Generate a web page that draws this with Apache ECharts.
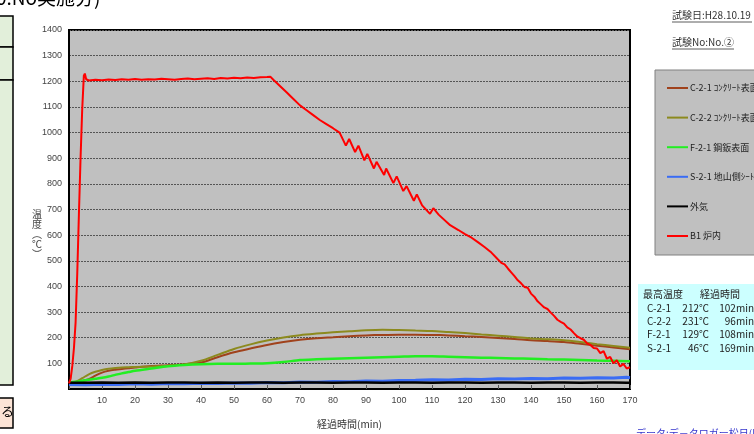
<!DOCTYPE html>
<html><head><meta charset="utf-8">
<script src="https://cdn.jsdelivr.net/npm/echarts/dist/echarts.min.js"></script>
<style>html,body{margin:0;padding:0;background:#fff}#c{width:754px;height:434px}</style>
</head><body><div id="c"></div>
<script>
var xTicks = [0,10,20,30,40,50,60,70,80,90,100,110,120,130,140,150,160,170];
var yTicks = [0,100,200,300,400,500,600,700,800,900,1000,1100,1200,1300,1400];
var seriesNames = ['C-2-1 ｺﾝｸﾘｰﾄ表面','C-2-2 ｺﾝｸﾘｰﾄ表面','F-2-1 鋼鈑表面','S-2-1 地山側ｼｰﾄ','外気','B1 炉内'];

var smoothT = [0,2,4,6,8,10,12,14,16,18,20,25,30,35,40,45,50,55,60,65,70,75,80,85,90,95,100,105,110,115,120,125,130,135,140,145,150,155,160,165,170];
var c21V = [25,27,31,38,52,64,71,75,78,81,84,90,93,97,103,124,143,158,172,183,192,198,202,206,209,211,212,212,211,209,206,203,199,195,190,187,183,176,169,162,155];
var c22V = [25,28,42,57,67,74,79,82,84,85,86,88,91,96,110,133,156,174,189,201,210,216,221,225,229,231,230,228,226,222,218,213,208,203,197,194,190,183,175,168,161];
var f21V = [25,28,32,36,40,44,49,55,61,66,71,80,89,94,97,98,98,99,100,105,113,116,118,120,122,124,126,128,128,126,124,122,121,119,118,116,115,113,111,110,108];

var blueT = [0,5,10,15,20,25,30,35,40,45,50,55,60,65,70,75,80,85,90,95,100,105,110,115,120,125,130,135,140,145,150,155,160,165,169,170];
var s21V = [18,17,19,18,20,19,21,20,22,21,23,22,25,24,27,26,29,28,31,30,33,34,36,35,38,37,40,39,41,40,43,42,44,43,46,44];
var airV = [24,24,25,24,25,24,25,25,24,25,24,25,25,24,25,25,24,25,25,24,25,25,24,25,25,24,25,25,24,25,25,24,25,25,24,24];

var redT = [0,0.5,1,1.5,2,2.5,3,3.5,4,4.5,4.8,5.2,6,8,10,12,14,16,18,20,22,24,26,28,30,32,34,36,38,40,42,44,46,48,50,52,54,56,58,60,61,62,64,66,68,70,72,74,76,78,80,82,83.9,84.9,86.7,87.7,89.5,90.4,92.4,93.2,95.5,96.1,98.3,99.3,101.3,102.3,104.5,105.4,107,109.4,110.4,112,115.5,118,120,122,124,126,128,130,131,132,133,134,135,136,137,138,139,140,141,142,143,144,145,146,147,148,149,150,151,152,153,154,155,156,157,158,159,160,161,162,163,164,165,166,167,168,169,170];
var redV = [22,40,90,160,260,450,680,900,1090,1222,1230,1208,1203,1206,1204,1207,1205,1208,1206,1209,1206,1208,1207,1210,1208,1206,1209,1211,1208,1210,1212,1209,1213,1211,1214,1212,1215,1213,1216,1217,1218,1205,1181,1156,1131,1106,1087,1068,1049,1033,1017,1000,949,975,924,949,892,917,860,886,835,860,803,829,772,791,734,759,716,683,705,680,639,620,604,590,572,553,532,505,492,486,470,455,440,424,412,398,395,372,360,342,330,318,312,298,285,270,262,255,240,232,218,205,198,192,178,172,160,158,140,148,118,125,100,112,88,98,80,85];

function pairs(t, v){ return t.map(function(x,i){ return [x, v[i]]; }); }

var colors = ['#a0421c','#8c8a1e','#22ee22','#3a6cf4','#000000','#ff0000'];
var values = [pairs(smoothT,c21V), pairs(smoothT,c22V), pairs(smoothT,f21V), pairs(blueT,s21V), pairs(blueT,airV), pairs(redT,redV)];
var widths = [2,2,2.5,3,2.5,2];

var jp = '"Noto Sans CJK JP", "Liberation Sans", sans-serif';
var chart = echarts.init(document.getElementById('c'));
var series = seriesNames.map(function(n,i){
  return {name:n, type:'line', data:values[i], showSymbol:false, smooth: (i<3)?0.3:false,
    lineStyle:{color:colors[i], width:widths[i]}, itemStyle:{color:colors[i]}, z: (i===5)?5:(i===4?3:2)};
});

var maxRows = [['C-2-1','212℃','102min'],['C-2-2','231℃','96min'],['F-2-1','129℃','108min'],['S-2-1','46℃','169min']];
var gfx = [
  {type:'rect', shape:{x:-2,y:16,width:15,height:31}, style:{fill:'#e2efda',stroke:'#000',lineWidth:1.5}},
  {type:'rect', shape:{x:-2,y:47,width:15,height:33}, style:{fill:'#e2efda',stroke:'#000',lineWidth:1.5}},
  {type:'rect', shape:{x:-2,y:80,width:15,height:305}, style:{fill:'#e2efda',stroke:'#000',lineWidth:1.5}},
  {type:'rect', shape:{x:-2,y:398,width:15,height:30}, style:{fill:'#fce4d6',stroke:'#000',lineWidth:1.5}},
  {type:'text', x:1, y:405, style:{text:'る', font:'13px '+jp, fill:'#000'}},
  {type:'text', x:-4, y:-12, style:{text:'0.No実施分)', font:'19px '+jp, fill:'#000'}},
  {type:'text', x:672, y:10, style:{text:'試験日:H28.10.19', font:'10px '+jp, fill:'#333'}},
  {type:'line', shape:{x1:672,y1:22,x2:752,y2:22}, style:{stroke:'#333',lineWidth:0.8}},
  {type:'text', x:672, y:37, style:{text:'試験No:No.②', font:'10px '+jp, fill:'#333'}},
  {type:'line', shape:{x1:672,y1:49,x2:734,y2:49}, style:{stroke:'#333',lineWidth:0.8}},
  {type:'rect', z:-1, shape:{x:655,y:70,width:120,height:185}, style:{fill:'#c0c0c0',stroke:'#808080',lineWidth:1}},
  {type:'rect', shape:{x:638,y:284,width:130,height:86}, style:{fill:'#ccffff'}},
  {type:'text', x:643, y:289, style:{text:'最高温度', font:'10px '+jp, fill:'#222'}},
  {type:'text', x:700, y:289, style:{text:'経過時間', font:'10px '+jp, fill:'#222'}},
  {type:'text', x:636, y:428, style:{text:'データ:デ－タロガー松日(H28時間)', font:'10px '+jp, fill:'#3333cc'}}
];
maxRows.forEach(function(r,i){
  var y = 303 + i*13.3;
  gfx.push({type:'text', x:647, y:y, style:{text:r[0], font:'10px '+jp, fill:'#222'}});
  gfx.push({type:'text', x:709, y:y, style:{text:r[1], font:'10px '+jp, fill:'#222', align:'right'}});
  gfx.push({type:'text', x:754, y:y, style:{text:r[2], font:'10px '+jp, fill:'#222', align:'right'}});
});

chart.setOption({
  animation:false,
  backgroundColor:'#fff',
  grid:{left:69, right:124, top:30, bottom:36, show:true, backgroundColor:'#c0c0c0', borderColor:'#000', borderWidth:2},
  xAxis:{type:'value', min:0, max:170, interval:10,
    name:'経過時間(min)', nameLocation:'middle', nameGap:30, nameMoveOverlap:false, nameTextStyle:{fontSize:10, color:'#333', fontFamily:jp},
    axisLine:{lineStyle:{color:'#000', width:2}}, axisTick:{inside:true, length:4, lineStyle:{color:'#555'}},
    axisLabel:{fontSize:9, color:'#444', margin:7, fontFamily:'"Liberation Sans Narrow","Liberation Sans",sans-serif',
      formatter:function(v){ return xTicks.indexOf(v)>0 ? String(v) : ''; }},
    splitLine:{show:false}},
  yAxis:{type:'value', min:0, max:1400, interval:100,
    name:'温\n度\n︵\n℃\n︶', nameLocation:'middle', nameGap:27, nameRotate:0, nameMoveOverlap:false,
    nameTextStyle:{fontSize:10, color:'#444', fontFamily:jp, lineHeight:10, verticalAlign:'top'},
    axisLine:{show:true, lineStyle:{color:'#000', width:2}}, axisTick:{show:false},
    axisLabel:{fontSize:9, color:'#444', margin:7, fontFamily:'"Liberation Sans Narrow","Liberation Sans",sans-serif',
      formatter:function(v){ return yTicks.indexOf(v)>0 ? String(v) : ''; }},
    splitLine:{show:true, lineStyle:{color:'#555', type:[2,1], width:1}}},
  legend:{data:seriesNames, orient:'vertical', left:667, top:83, padding:0, itemGap:19.6, itemWidth:21, itemHeight:2,
    icon:'rect', selectedMode:false, textStyle:{fontSize:9, lineHeight:10, color:'#222', fontFamily:jp, padding:[0,0,0,-3]}},
  graphic:gfx,
  series:series
});
</script></body></html>
